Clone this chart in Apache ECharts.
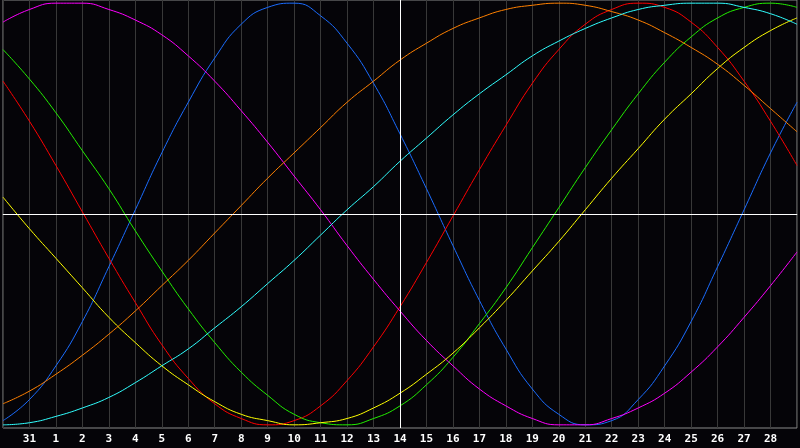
<!DOCTYPE html>
<html>
<head>
<meta charset="utf-8">
<script src="https://cdn.jsdelivr.net/npm/echarts@6/dist/echarts.min.js"></script>
<style>
  html, body { margin: 0; padding: 0; background: #050408; }
  #chart { width: 800px; height: 448px; }
</style>
</head>
<body>
<div id="chart"></div>
<script>
// days on the x axis (first and last are the edges, not labelled)
var days = ['30','31','1','2','3','4','5','6','7','8','9','10','11','12','13','14',
  '15','16','17','18','19','20','21','22','23','24','25','26','27','28','29'];
var todayIndex = 15;

// curve values, one per day
var redData = [0.63,0.44,0.23,0.01,-0.21,-0.42,-0.62,-0.78,-0.90,-0.97,-1.00,-0.98,-0.91,-0.79,-0.63,-0.44,
  -0.23,-0.01,0.21,0.42,0.62,0.78,0.90,0.97,1.00,0.98,0.91,0.79,0.63,0.44,0.23];
var greenData = [0.78,0.64,0.48,0.30,0.12,-0.08,-0.27,-0.45,-0.61,-0.75,-0.86,-0.95,-0.99,-1.00,-0.97,-0.91,
  -0.81,-0.68,-0.52,-0.35,-0.16,0.03,0.22,0.40,0.57,0.72,0.84,0.93,0.98,1.00,0.98];
var blueData = [-0.98,-0.88,-0.72,-0.51,-0.25,0.02,0.29,0.53,0.74,0.90,0.98,1.00,0.94,0.81,0.62,0.38,
  0.12,-0.15,-0.41,-0.64,-0.83,-0.95,-1.00,-0.98,-0.88,-0.72,-0.51,-0.25,0.02,0.29,0.53];
var magentaData = [0.91,0.97,1.00,1.00,0.97,0.92,0.85,0.75,0.63,0.49,0.34,0.18,0.02,-0.15,-0.31,-0.46,
  -0.60,-0.72,-0.83,-0.91,-0.97,-1.00,-1.00,-0.97,-0.92,-0.85,-0.75,-0.63,-0.49,-0.34,-0.18];
var orangeData = [-0.90,-0.84,-0.76,-0.67,-0.57,-0.46,-0.34,-0.22,-0.09,0.04,0.17,0.29,0.41,0.53,0.63,0.73,
  0.81,0.88,0.93,0.97,0.99,1.00,0.99,0.96,0.92,0.86,0.79,0.71,0.61,0.50,0.39];
var cyanData = [-1.00,-0.99,-0.96,-0.92,-0.87,-0.80,-0.72,-0.64,-0.54,-0.44,-0.33,-0.22,-0.10,0.02,0.13,0.25,
  0.36,0.47,0.57,0.66,0.75,0.82,0.88,0.93,0.97,0.99,1.00,1.00,0.98,0.95,0.90];
var yellowData = [0.08,-0.07,-0.21,-0.35,-0.49,-0.61,-0.72,-0.81,-0.89,-0.95,-0.98,-1.00,-0.99,-0.97,-0.92,-0.85,
  -0.76,-0.66,-0.54,-0.41,-0.27,-0.13,0.02,0.17,0.31,0.45,0.57,0.69,0.79,0.87,0.93];

var chart = echarts.init(document.getElementById('chart'))

function curve(name, data, color) {
  return {
    name: name,
    type: 'line',
    data: data,
    smooth: true,
    showSymbol: false,
    silent: true,
    lineStyle: { color: color, width: 1 }
  }
}

var series = [
  curve('physical', blueData, '#1a6cff'),
  curve('emotional', redData, '#ff0000'),
  curve('intellectual', greenData, '#22ee00'),
  curve('intuitive', magentaData, '#ff00ff'),
  curve('aesthetic', yellowData, '#ffff00'),
  curve('awareness', orangeData, '#ff8000'),
  curve('spiritual', cyanData, '#30ffff')
]
// today line and zero line
series[0].markLine = {
  silent: true,
  symbol: ['none', 'none'],
  label: { show: false },
  lineStyle: { color: '#ffffff', width: 1, type: 'solid' },
  data: [ { xAxis: todayIndex }, { yAxis: 0 } ]
}

chart.setOption({
  animation: false,
  backgroundColor: '#050408',
  grid: {
    left: 0, right: 0, top: 0, bottom: 20,
    show: true,
    borderColor: '#8a8a8a',
    borderWidth: 1,
    backgroundColor: 'transparent'
  },
  xAxis: {
    type: 'category',
    data: days,
    boundaryGap: false,
    axisLine: { lineStyle: { color: '#9a9a9a' } },
    axisTick: { show: false },
    splitLine: { show: true, interval: 0, lineStyle: { color: '#383838', width: 1 } },
    axisLabel: {
      interval: 0,
      margin: 6,
      color: '#ffffff',
      fontFamily: 'DejaVu Sans Mono',
      fontWeight: 'bold',
      fontSize: 11,
      formatter: function (v, i) { return (i === 0 || i === days.length - 1) ? '' : v }
    }
  },
  yAxis: {
    type: 'value',
    min: -1.015,
    max: 1.015,
    show: false,
    splitLine: { show: false }
  },
  series: series
})
</script>
</body>
</html>
